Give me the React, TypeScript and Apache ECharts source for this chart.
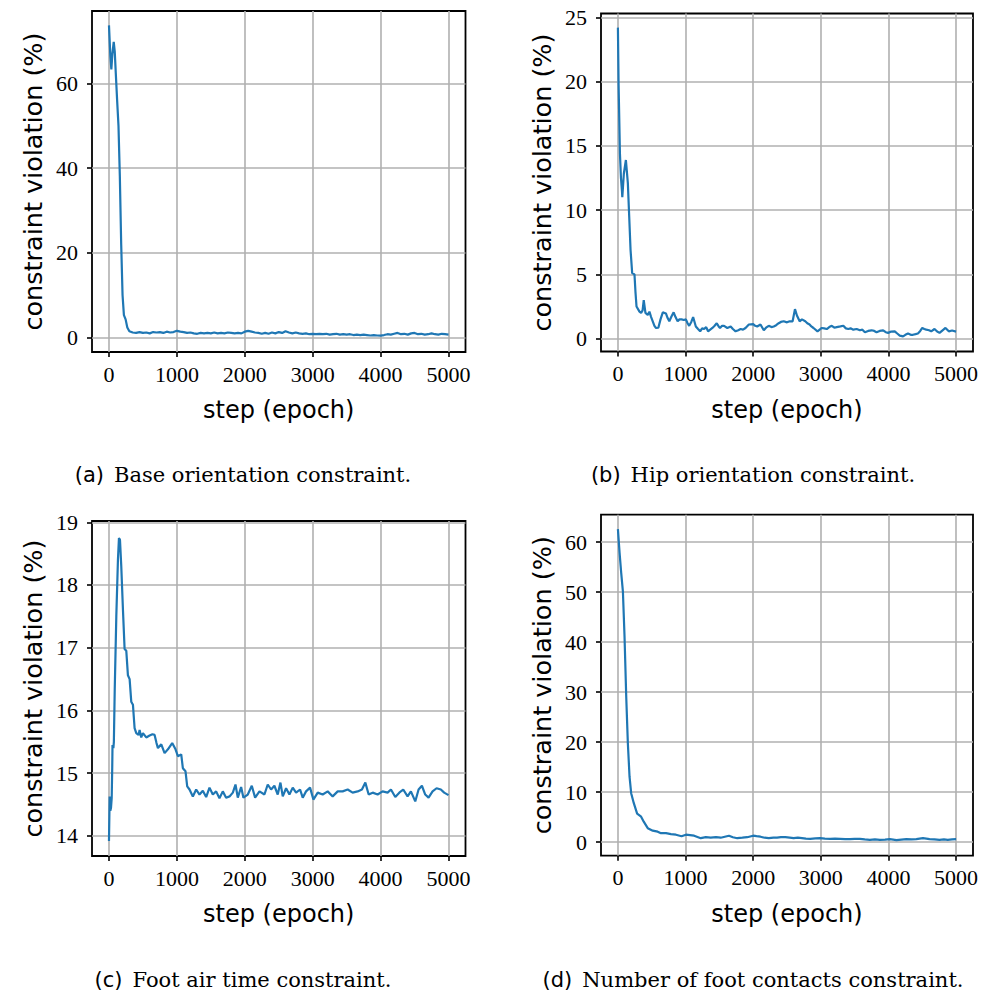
import React, { useEffect, useRef } from "react";
import * as echarts from "echarts";

// ---------- data ----------
const xTicks = [0, 1000, 2000, 3000, 4000, 5000];

// (a) Base orientation constraint
const baseSteps = [
  0, 20, 35, 50, 70, 85, 100, 120, 140, 160, 180, 200, 220, 245, 270, 300, 350, 400, 450, 500,
  550, 600, 650, 700, 750, 800, 850, 900, 950, 1000, 1050, 1100, 1150, 1200, 1250, 1300, 1350,
  1400, 1450, 1500, 1550, 1600, 1650, 1700, 1750, 1800, 1850, 1900, 1950, 2000, 2050, 2100,
  2150, 2200, 2250, 2300, 2350, 2400, 2450, 2500, 2550, 2600, 2650, 2700, 2750, 2800, 2850,
  2900, 2950, 3000, 3050, 3100, 3150, 3200, 3250, 3300, 3350, 3400, 3450, 3500, 3550, 3600,
  3650, 3700, 3750, 3800, 3850, 3900, 3950, 4000, 4050, 4100, 4150, 4200, 4250, 4300, 4350,
  4400, 4450, 4500, 4550, 4600, 4650, 4700, 4750, 4800, 4850, 4900, 4950, 5000,
];
const baseViolation = [
  73.7, 66.5, 63.3, 67.0, 69.8, 67.5, 62.5, 56.0, 50.0, 38.0, 22.0, 10.0, 5.3, 4.3, 2.4, 1.5,
  1.2, 1.1, 1.3, 1.1, 1.2, 1.0, 1.3, 1.2, 1.3, 1.1, 1.4, 1.2, 1.3, 1.6, 1.4, 1.3, 1.1, 1.2, 1.0,
  0.9, 1.1, 1.0, 1.1, 1.0, 1.2, 1.0, 1.1, 1.0, 1.2, 1.1, 1.0, 1.1, 1.0, 1.4, 1.6, 1.4, 1.2, 1.1,
  0.9, 1.1, 0.9, 1.2, 1.0, 1.3, 1.1, 1.5, 1.2, 1.0, 1.2, 1.0, 0.9, 1.0, 0.8, 0.9, 0.8, 0.9, 0.8,
  0.9, 0.7, 0.8, 0.9, 0.7, 0.8, 0.7, 0.8, 0.6, 0.7, 0.6, 0.7, 0.6, 0.5, 0.6, 0.5, 0.45, 0.6,
  0.8, 0.7, 0.9, 1.1, 0.8, 0.9, 0.7, 1.0, 1.1, 0.8, 0.9, 0.7, 0.8, 1.0, 0.8, 0.7, 0.9, 0.8, 0.7,
];
const baseYTicks = [0, 20, 40, 60];

// (b) Hip orientation constraint
const hipSteps = [
  0, 10, 30, 45, 60, 65, 88, 118, 147, 167, 187, 211, 245, 260, 275, 319, 343, 365, 382, 407,
  441, 466, 490, 515, 540, 564, 598, 630, 664, 690, 711, 735, 760, 790, 824, 850, 883, 910, 941,
  975, 1005, 1030, 1054, 1085, 1112, 1152, 1185, 1216, 1245, 1275, 1305, 1333, 1365, 1397, 1430,
  1461, 1490, 1510, 1540, 1569, 1618, 1667, 1700, 1740, 1780, 1814, 1850, 1887, 1936, 2000, 2030,
  2059, 2108, 2157, 2190, 2230, 2270, 2304, 2340, 2377, 2410, 2451, 2500, 2540, 2583, 2618, 2647,
  2687, 2721, 2770, 2800, 2834, 2860, 2892, 2951, 3015, 3050, 3088, 3125, 3162, 3200, 3235, 3290,
  3333, 3370, 3407, 3440, 3480, 3530, 3578, 3615, 3652, 3700, 3750, 3790, 3824, 3870, 3922, 3960,
  3995, 4040, 4093, 4130, 4167, 4216, 4250, 4289, 4330, 4363, 4400, 4436, 4470, 4500, 4530, 4559,
  4600, 4632, 4681, 4720, 4755, 4800, 4843, 4892, 4941, 5000,
];
const hipViolation = [
  24.2, 19.8, 14.4, 12.5, 11.5, 11.0, 12.85, 13.9, 12.1, 9.5, 6.9, 5.1, 5.0, 3.6, 2.5, 2.1, 2.0,
  2.2, 3.0, 2.0, 1.85, 2.1, 1.7, 1.35, 1.0, 0.83, 0.85, 1.5, 2.05, 2.0, 1.95, 1.6, 1.35, 1.7, 2.05,
  1.7, 1.35, 1.5, 1.5, 1.45, 1.5, 1.2, 1.0, 1.3, 1.68, 0.95, 0.75, 0.57, 0.8, 0.75, 0.9, 0.57, 0.7,
  0.83, 1.0, 1.2, 0.95, 0.83, 1.0, 1.0, 0.83, 0.95, 0.75, 0.57, 0.65, 0.75, 0.7, 0.83, 1.1, 1.13,
  1.0, 0.95, 1.1, 0.65, 0.85, 1.0, 0.9, 0.95, 1.05, 1.2, 1.3, 1.35, 1.27, 1.35, 1.35, 2.3, 1.8,
  1.35, 1.5, 1.35, 1.2, 1.1, 0.95, 0.83, 0.57, 0.83, 0.8, 0.75, 0.9, 1.0, 0.85, 0.9, 0.95, 1.0,
  0.8, 0.75, 0.8, 0.7, 0.75, 0.65, 0.7, 0.5, 0.6, 0.65, 0.6, 0.5, 0.6, 0.65, 0.5, 0.45, 0.55,
  0.57, 0.4, 0.24, 0.18, 0.3, 0.4, 0.3, 0.3, 0.35, 0.4, 0.6, 0.83, 0.75, 0.7, 0.65, 0.57, 0.75,
  0.55, 0.45, 0.65, 0.83, 0.57, 0.63, 0.55,
];
const hipYTicks = [0, 5, 10, 15, 20, 25];

// (c) Foot air time constraint
const airSteps = [
  0, 10, 20, 30, 40, 48, 52, 65, 72, 85, 108, 132, 147, 162, 181, 206, 230, 255, 279, 304, 328,
  353, 377, 402, 436, 451, 475, 500, 549, 598, 640, 672, 700, 721, 770, 819, 868, 931, 980, 1015,
  1064, 1088, 1127, 1152, 1186, 1235, 1284, 1333, 1382, 1431, 1480, 1529, 1578, 1627, 1676, 1725,
  1775, 1824, 1863, 1897, 1946, 1980, 2044, 2103, 2152, 2216, 2289, 2338, 2387, 2436, 2485, 2525,
  2559, 2608, 2657, 2706, 2755, 2814, 2853, 2902, 2961, 3010, 3074, 3147, 3221, 3294, 3368, 3441,
  3515, 3588, 3662, 3725, 3775, 3824, 3883, 3956, 4029, 4103, 4152, 4216, 4275, 4333, 4397, 4446,
  4510, 4559, 4608, 4657, 4706, 4765, 4824, 4887, 4936, 5000,
];
const airViolation = [
  13.92, 14.63, 14.4, 14.45, 14.6, 15.1, 15.45, 15.4, 15.5, 16.35, 17.5, 18.4, 18.75, 18.72, 18.3,
  17.6, 16.98, 16.95, 16.56, 16.5, 16.14, 16.09, 15.72, 15.64, 15.61, 15.69, 15.57, 15.64, 15.57,
  15.6, 15.62, 15.61, 15.48, 15.4, 15.46, 15.32, 15.38, 15.48, 15.38, 15.27, 15.3, 15.08, 15.03,
  14.79, 14.74, 14.63, 14.74, 14.66, 14.72, 14.62, 14.77, 14.66, 14.71, 14.6, 14.71, 14.61, 14.63,
  14.69, 14.82, 14.61, 14.78, 14.61, 14.66, 14.8, 14.61, 14.71, 14.66, 14.82, 14.74, 14.8, 14.66,
  14.85, 14.63, 14.76, 14.66, 14.77, 14.69, 14.74, 14.61, 14.71, 14.77, 14.58, 14.69, 14.66, 14.71,
  14.63, 14.71, 14.71, 14.74, 14.69, 14.71, 14.74, 14.85, 14.66, 14.69, 14.66, 14.71, 14.69, 14.74,
  14.62, 14.69, 14.74, 14.63, 14.71, 14.55, 14.74, 14.8, 14.66, 14.61, 14.71, 14.76, 14.74, 14.69,
  14.65,
];
const airYTicks = [14, 15, 16, 17, 18, 19];

// (d) Number of foot contacts constraint
const contactSteps = [
  0, 25, 49, 74, 98, 123, 147, 172, 196, 235, 284, 343, 382, 441, 515, 588, 637, 711, 784, 858,
  941, 1005, 1127, 1225, 1300, 1372, 1450, 1520, 1580, 1642, 1700, 1765, 1840, 1912, 2000, 2050,
  2108, 2170, 2230, 2300, 2353, 2410, 2475, 2540, 2598, 2660, 2721, 2780, 2843, 2920, 2990, 3060,
  3137, 3210, 3284, 3360, 3431, 3500, 3578, 3650, 3725, 3800, 3873, 3950, 4020, 4070, 4118, 4190,
  4265, 4340, 4412, 4460, 4510, 4560, 4608, 4680, 4755, 4820, 4877, 4940, 5000,
];
const contactViolation = [
  62.6, 57.8, 53.8, 50.1, 41.1, 29.1, 19.8, 13.1, 9.8, 7.8, 5.7, 5.1, 4.1, 2.8, 2.3, 2.1, 1.8, 1.8,
  1.6, 1.5, 1.2, 1.5, 1.3, 0.8, 1.0, 0.9, 1.0, 0.9, 1.1, 1.3, 1.0, 0.8, 0.9, 1.0, 1.3, 1.2, 1.1,
  0.9, 0.8, 0.9, 0.9, 1.0, 1.0, 0.9, 0.8, 0.9, 0.8, 0.7, 0.67, 0.75, 0.8, 0.7, 0.67, 0.7, 0.67,
  0.6, 0.6, 0.65, 0.67, 0.55, 0.47, 0.55, 0.47, 0.5, 0.6, 0.5, 0.4, 0.5, 0.6, 0.55, 0.6, 0.7, 0.8,
  0.7, 0.6, 0.55, 0.47, 0.55, 0.47, 0.55, 0.6,
];
const contactYTicks = [0, 10, 20, 30, 40, 50, 60];

const captionLabels = ["(a)", "(b)", "(c)", "(d)"];
const captionTexts = [
  "Base orientation constraint.",
  "Hip orientation constraint.",
  "Foot air time constraint.",
  "Number of foot contacts constraint.",
];

// ---------- chart ----------
const SERIF = "'Liberation Serif', 'DejaVu Serif', serif";
const SANS = "'DejaVu Sans', sans-serif";

const panels = [
  { steps: baseSteps, vals: baseViolation, yTicks: baseYTicks, min: -3.4, max: 77.1,
    grid: { left: 92, top: 11, width: 373.5, height: 341 }, cap: { x: 243, y: 475 } },
  { steps: hipSteps, vals: hipViolation, yTicks: hipYTicks, min: -1.0, max: 25.3,
    grid: { left: 601, top: 13.5, width: 372, height: 338 }, cap: { x: 753, y: 475 } },
  { steps: airSteps, vals: airViolation, yTicks: airYTicks, min: 13.68, max: 19.02,
    grid: { left: 92, top: 521, width: 373.5, height: 335 }, cap: { x: 243, y: 980 } },
  { steps: contactSteps, vals: contactViolation, yTicks: contactYTicks, min: -2.7, max: 65.5,
    grid: { left: 601, top: 514.7, width: 372, height: 341 }, cap: { x: 753, y: 980 } },
];

function buildOption() {
  const tickStyle = { color: "#000", width: 1.6 };
  const gridLine = { show: true, lineStyle: { color: "#b0b0b0", width: 1.6 } };
  const labelStyle = { fontFamily: SERIF, fontSize: 22, color: "#000" };
  const fmt = (v: number) => String(v);
  return {
    animation: false,
    backgroundColor: "#fff",
    grid: panels.map((p) => ({
      ...p.grid,
      show: true,
      borderColor: "#000",
      borderWidth: 1.8,
      backgroundColor: "transparent",
    })),
    xAxis: panels.map((p, i) => ({
      type: "value",
      gridIndex: i,
      min: -250,
      max: 5250,
      axisLine: { show: false, onZero: false },
      axisTick: { show: true, customValues: xTicks, length: 5, inside: false, lineStyle: tickStyle },
      axisLabel: { customValues: xTicks, margin: 11, formatter: fmt, ...labelStyle },
      splitLine: gridLine,
      name: "step (epoch)",
      nameLocation: "middle",
      nameGap: 46,
      nameTextStyle: { fontFamily: SANS, fontSize: 24, color: "#000" },
    })),
    yAxis: panels.map((p, i) => ({
      type: "value",
      gridIndex: i,
      min: p.min,
      max: p.max,
      axisLine: { show: false, onZero: false },
      axisTick: { show: true, customValues: p.yTicks, length: 5, inside: false, lineStyle: tickStyle },
      axisLabel: { customValues: p.yTicks, margin: 14, formatter: fmt, ...labelStyle },
      splitLine: gridLine,
      name: "constraint violation (%)",
      nameLocation: "middle",
      nameGap: 46,
      nameTextStyle: { fontFamily: SANS, fontSize: 25.5, color: "#000" },
    })),
    series: panels.map((p, i) => ({
      type: "line",
      xAxisIndex: i,
      yAxisIndex: i,
      showSymbol: false,
      symbol: "none",
      silent: true,
      lineStyle: { color: "#1f77b4", width: 2.2 },
      data: p.steps.map((s, k) => [s, p.vals[k]]),
    })),
    graphic: panels.map((p, i) => ({
      type: "text",
      x: p.cap.x,
      y: p.cap.y,
      style: {
        text: `{s|${captionLabels[i]}}{sp| }{r|${captionTexts[i]}}`,
        rich: {
          s: { fontFamily: SANS, fontSize: 21, fill: "#000" },
          sp: { fontFamily: SANS, fontSize: 21, fill: "#000", width: 10 },
          r: { fontFamily: "'DejaVu Serif', serif", fontSize: 21, fill: "#000" },
        },
        align: "center",
        verticalAlign: "middle",
        textAlign: "center",
        textVerticalAlign: "middle",
      },
    })),
  };
}

export default function App() {
  const ref = useRef<HTMLDivElement>(null);
  useEffect(() => {
    if (!ref.current) return;
    const chart = echarts.init(ref.current, undefined, { renderer: "svg" });
    chart.setOption(buildOption() as any);
    return () => chart.dispose();
  }, []);
  return (
    <div
      ref={ref}
      style={{ position: "absolute", left: 0, top: 0, width: 985, height: 997, background: "#fff" }}
    />
  );
}
